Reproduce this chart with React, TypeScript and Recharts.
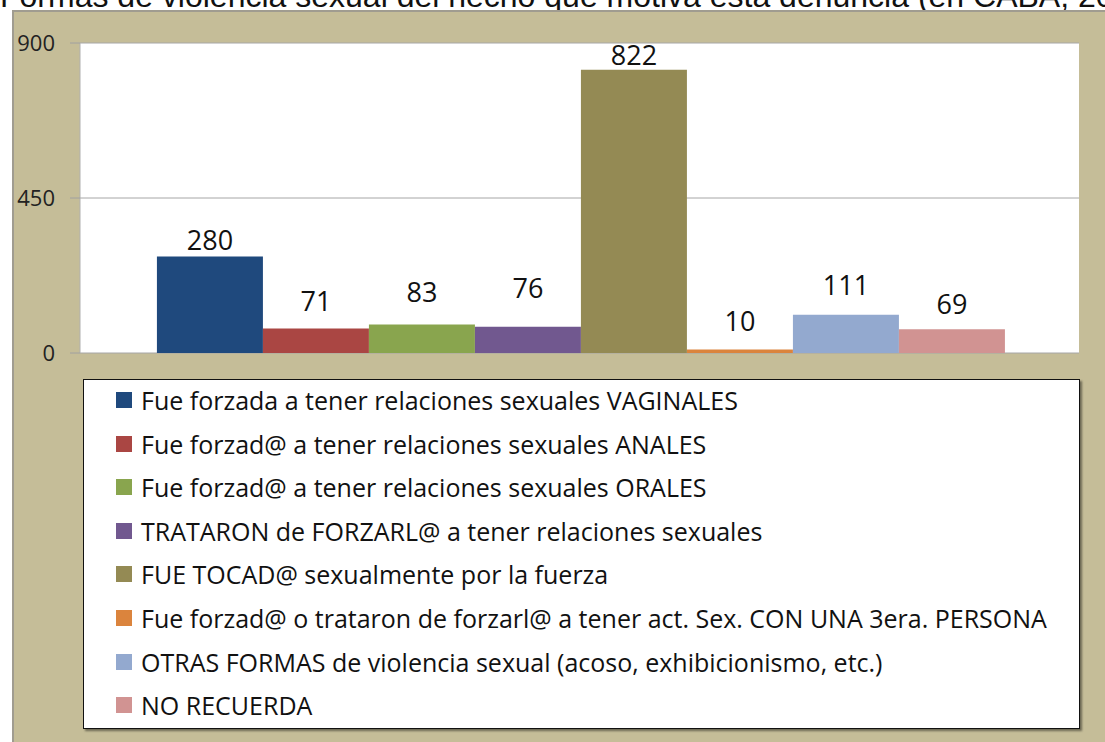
import React from "react";
import { BarChart, Bar, XAxis, YAxis, CartesianGrid, LabelList, Legend } from "recharts";

const seriesNames = [
  "Fue forzada a tener relaciones sexuales VAGINALES",
  "Fue forzad@ a tener relaciones sexuales ANALES",
  "Fue forzad@ a tener relaciones sexuales ORALES",
  "TRATARON de FORZARL@ a tener relaciones sexuales",
  "FUE TOCAD@ sexualmente por la fuerza",
  "Fue forzad@ o trataron de forzarl@ a tener act. Sex. CON UNA 3era. PERSONA",
  "OTRAS FORMAS de violencia sexual (acoso, exhibicionismo, etc.)",
  "NO RECUERDA",
];
const seriesValues = [280, 71, 83, 76, 822, 10, 111, 69];
const yTicks = [0, 450, 900];
const titleText = "Formas de violencia sexual del hecho que motiva esta denuncia (en CABA, 2013)";

const colors = ["#1F497D", "#AA4643", "#89A54E", "#71588F", "#948A54", "#DB843D", "#93A9CF", "#D19392"];
const labelOffsets = [7, 18, 22, 29, 5, 19, 20, 15];

const row: Record<string, any> = { name: "total" };
seriesValues.forEach((v, i) => {
  row["s" + i] = v;
});
const data = [row];

const LegendBox = () => {
  return (
    <div
      style={{
        width: 997,
        height: 350,
        boxSizing: "border-box",
        background: "#fff",
        border: "1.5px solid #111",
        boxShadow: "2px 2px 2px rgba(0,0,0,0.45)",
        position: "relative",
      }}
    >
      {seriesNames.map((name, i) => (
        <div
          key={i}
          style={{
            position: "absolute",
            left: 32,
            top: 20 + i * 43.6 - 18,
            height: 36,
            display: "flex",
            alignItems: "center",
            fontFamily: "'Open Sans', sans-serif",
            fontSize: 25,
            color: "#111",
            whiteSpace: "nowrap",
            textAlign: "left",
          }}
        >
          <span style={{ display: "inline-block", width: 16, height: 16, background: colors[i], marginRight: 9 }} />
          <span>{name}</span>
        </div>
      ))}
    </div>
  );
};

export default function App() {
  return (
    <div style={{ position: "absolute", left: 0, top: 0, width: 1105, height: 742, overflow: "hidden", background: "#fff" }}>
      <div
        style={{
          position: "absolute",
          left: 0,
          top: -20,
          fontFamily: "'Liberation Sans', Arial, sans-serif",
          fontSize: 32,
          lineHeight: "32px",
          color: "#111",
          whiteSpace: "nowrap",
        }}
      >
        {titleText}
      </div>
      <div
        style={{
          position: "absolute",
          left: 12,
          top: 10,
          width: 1200,
          height: 800,
          background: "#C5BD98",
          borderLeft: "2px solid #A09C90",
          borderTop: "2px solid #A09C90",
        }}
      />
      <div style={{ position: "absolute", left: 0, top: 0 }}>
        <BarChart
          width={1105}
          height={742}
          data={data}
          margin={{ top: 43, right: 26, bottom: 389, left: 20 }}
          barCategoryGap="7.7%"
          barGap={0}
        >
          <CartesianGrid vertical={false} stroke="#A6A6A6" fill="#fff" />
          <XAxis dataKey="name" hide />
          <YAxis
            width={60}
            domain={[0, 900]}
            ticks={yTicks}
            tickSize={10}
            tickMargin={15}
            axisLine={{ stroke: "#B0B0B0" }}
            tickLine={{ stroke: "#A0A0A0" }}
            tick={{ fill: "#222", fontSize: 22, fontFamily: "'Open Sans', sans-serif" }}
          />
          <Legend
            layout="vertical"
            align="center"
            verticalAlign="middle"
            content={<LegendBox />}
            wrapperStyle={{ position: "absolute", left: 83, top: 379, width: 997, height: 350 }}
          />
          {seriesValues.map((_, i) => (
            <Bar
              key={i}
              dataKey={"s" + i}
              name={seriesNames[i]}
              fill={colors[i]}
              isAnimationActive={false}
            >
              <LabelList
                dataKey={"s" + i}
                position="top"
                offset={labelOffsets[i]}
                style={{ fill: "#111", fontSize: 27, fontFamily: "'Open Sans', sans-serif" }}
              />
            </Bar>
          ))}
        </BarChart>
      </div>
    </div>
  );
}
